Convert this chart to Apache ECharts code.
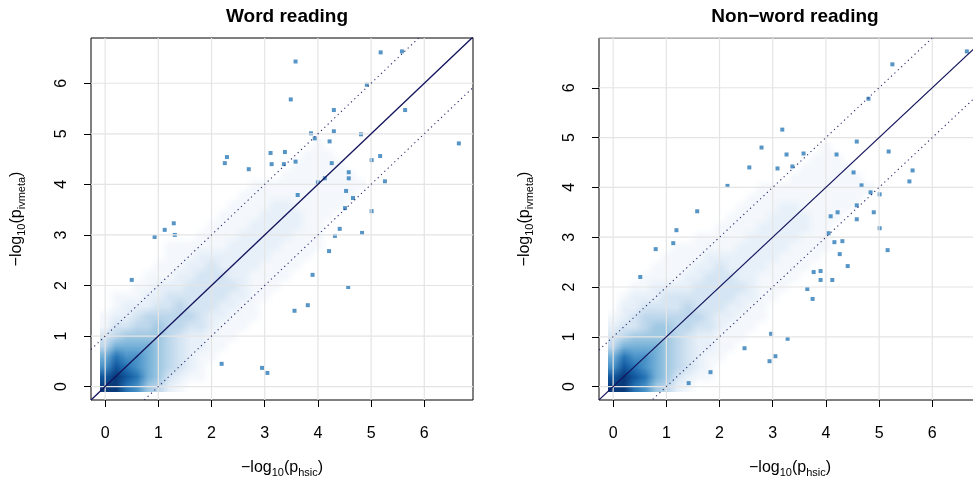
<!DOCTYPE html>
<html>
<head>
<meta charset="utf-8">
<script src="https://cdn.jsdelivr.net/npm/echarts@6/dist/echarts.min.js"></script>
<style>
html, body { margin: 0; padding: 0; background: #fff; overflow: hidden; }
#chart { width: 1010px; height: 485px; }
</style>
</head>
<body>
<div id="chart"></div>
<script>
// axis ranges (R style, data range padded by 4%)
var xRange = [-0.266, 6.916];
var yRangeWord = [-0.265, 6.895];
var yRangeNonword = [-0.269, 6.999];
var xTicks = [0, 1, 2, 3, 4, 5, 6];
var yTicksWord = [0, 1, 2, 3, 4, 5, 6];
var yTicksNonword = [0, 1, 2, 3, 4, 5, 6, 7];
var refOffsets = [0, 1, -1];   // y = x, y = x + 1, y = x - 1

// smoothed density: one string per row, bottom row is y = 0,
// rows and columns every 0.2 units, levels 0..a (0 = blank, a = darkest)
var densityStep = 0.2;
var densityWord = [
  'aa875421',
  '9a98653211',
  '7987654321',
  '68776543211',
  '466665432211',
  '3455554322111',
  '13344544332111',
  '122344444322111',
  '012223343332211',
  '0111223333332211',
  '00011222333332111',
  '000011122333221111',
  '0000011122322221111',
  '00000011122222221111',
  '000000111111222221111',
  '000000000111122222111',
  '000000000011112222211',
  '0000000000011112222111',
  '00000000000011112211111',
  '000000000000011111111111',
  '0000000000000011111111111',
  '000000000000000001111111',
  '00000000000000000011111',
  '0000000000000000000111',
  '000000000000000000001'
];
var densityNonword = [
  'aa875421',
  '9a98653211',
  '7987654321',
  '68776543211',
  '466665432211',
  '3455554322111',
  '23345544332111',
  '123444444322111',
  '022333343332211',
  '0122233333332211',
  '00112222333332111',
  '000111122333221111',
  '0000111122322221111',
  '00000111122222221111',
  '000000111111222221111',
  '000000001111122222111',
  '000000000011112222211',
  '0000000000011112222111',
  '00000000000011112211111',
  '000000000000011111111111',
  '0000000000000011111111111',
  '000000000000000001111111',
  '00000000000000000011111',
  '0000000000000000000111',
  '000000000000000000001'
];
var densityColors = ['#ffffff', '#f4f8fc', '#e7f0f9', '#d5e5f3', '#bdd7ec', '#9fc8e2',
                     '#74b0d8', '#4a93c8', '#2775b6', '#11579e', '#08397a'];

// outlying genes
var wordX = [0.50, 0.93, 1.12, 1.29, 1.31, 2.19, 2.25, 2.29, 2.70, 2.95, 3.05, 3.11, 3.13, 3.36, 3.38,
             3.49, 3.56, 3.58, 3.58, 3.62, 3.81, 3.87, 3.90, 3.94, 4.00, 4.13, 4.21, 4.22, 4.26, 4.30,
             4.30, 4.32, 4.41, 4.51, 4.53, 4.57, 4.58, 4.58, 4.66, 4.81, 4.83, 4.92, 5.01, 5.01, 5.17,
             5.18, 5.26, 5.58, 5.64, 6.65];
var wordY = [2.11, 2.96, 3.10, 3.23, 3.00, 0.45, 4.42, 4.54, 4.30, 0.37, 0.27, 4.62, 4.40, 4.40, 4.64,
             5.68, 1.50, 4.45, 6.43, 3.79, 1.61, 5.01, 2.21, 4.91, 4.04, 4.12, 2.68, 4.85, 4.42, 5.47,
             5.05, 2.98, 3.12, 3.53, 3.87, 1.97, 4.24, 4.12, 3.73, 4.99, 3.04, 5.97, 4.48, 3.47, 4.56,
             6.61, 4.06, 6.63, 5.47, 4.81];
var nonwordX = [0.51, 0.80, 1.13, 1.19, 1.42, 1.58, 1.83, 2.15, 2.47, 2.56, 2.79, 2.94, 2.97, 3.05, 3.09,
                3.18, 3.26, 3.28, 3.37, 3.58, 3.65, 3.75, 3.77, 3.90, 3.90, 4.05, 4.09, 4.12, 4.16, 4.20,
                4.22, 4.26, 4.31, 4.41, 4.52, 4.58, 4.58, 4.58, 4.67, 4.84, 4.90, 4.80, 5.01, 5.01, 5.16,
                5.18, 5.25, 5.57, 5.63, 6.65];
var nonwordY = [2.20, 2.76, 2.88, 3.14, 0.07, 3.52, 0.29, 4.03, 0.77, 4.40, 4.80, 0.51, 1.06, 0.61, 4.38,
                5.16, 4.66, 0.96, 4.42, 4.68, 1.96, 1.76, 2.30, 2.32, 2.14, 3.08, 3.42, 2.14, 2.90, 4.66,
                3.50, 2.66, 2.92, 2.42, 4.30, 4.92, 3.64, 3.36, 4.04, 3.90, 3.50, 5.78, 3.86, 3.18, 2.74,
                4.72, 6.47, 4.12, 4.34, 6.73];

var FONT = '"Liberation Sans", Arial, Helvetica, sans-serif';

// paint the density levels into a tiny bitmap, one pixel per cell;
// the chart stretches it over the cells so the browser smooths it like smoothScatter
function densityBitmap(rows) {
  var cols = 0;
  rows.forEach(function (r) { cols = Math.max(cols, r.length); });
  var cv = document.createElement('canvas');
  cv.width = cols;
  cv.height = rows.length;
  var ctx = cv.getContext('2d');
  rows.forEach(function (row, j) {
    for (var i = 0; i < row.length; i++) {
      var lev = parseInt(row[i], 11);
      if (lev > 0) {
        ctx.fillStyle = densityColors[lev];
        ctx.fillRect(i, rows.length - 1 - j, 1, 1);
      }
    }
  });
  return { canvas: cv, cols: cols, rows: rows.length };
}

function densityRenderer(bmp) {
  return function (params, api) {
    var h = densityStep / 2;
    var p0 = api.coord([-h, (bmp.rows - 1) * densityStep + h]);
    var p1 = api.coord([(bmp.cols - 1) * densityStep + h, -h]);
    return {
      type: 'image',
      style: { image: bmp.canvas, x: p0[0], y: p0[1], width: p1[0] - p0[0], height: p1[1] - p0[1] }
    };
  };
}

function gridLineRenderer(yRange) {
  return function (params, api) {
    var v = api.value(0);
    var horiz = api.value(1) === 1;
    var a = horiz ? api.coord([xRange[0], v]) : api.coord([v, yRange[0]]);
    var b = horiz ? api.coord([xRange[1], v]) : api.coord([v, yRange[1]]);
    return {
      type: 'line',
      shape: { x1: a[0], y1: a[1], x2: b[0], y2: b[1] },
      style: { stroke: '#e4e4e4', lineWidth: 1.2 }
    };
  };
}

function axisName(sub) {
  return '{m|\u2212log}{s|10}{m|(p}{s|' + sub + '}{m|)}';
}
var nameRich = {
  m: { fontSize: 16, fontFamily: FONT, color: '#000', lineHeight: 20 },
  s: { fontSize: 11, fontFamily: FONT, color: '#000', lineHeight: 11, verticalAlign: 'bottom' }
};

function panel(idx, yRange, yTicks, density, px, py) {
  var gridData = xTicks.map(function (v) { return [v, 0]; })
    .concat(yTicks.map(function (v) { return [v, 1]; }));
  var series = [
    {
      type: 'custom', xAxisIndex: idx, yAxisIndex: idx, z: 1, silent: true,
      renderItem: densityRenderer(densityBitmap(density)), data: [[0, 0]]
    },
    {
      type: 'scatter', xAxisIndex: idx, yAxisIndex: idx, z: 2, silent: true,
      symbol: 'rect', symbolSize: 4,
      itemStyle: { color: '#2c7bb8' },
      data: px.map(function (x, k) { return [x, py[k]]; })
    },
    {
      type: 'custom', xAxisIndex: idx, yAxisIndex: idx, z: 3, silent: true,
      renderItem: gridLineRenderer(yRange), data: gridData
    }
  ];
  refOffsets.forEach(function (off) {
    series.push({
      type: 'line', xAxisIndex: idx, yAxisIndex: idx, z: 4, silent: true,
      showSymbol: false, clip: true,
      lineStyle: off === 0
        ? { color: '#14145c', width: 1.3 }
        : { color: '#2a2a6c', width: 1.1, type: [1.2, 3.4] },
      data: [[xRange[0], xRange[0] + off], [xRange[1], xRange[1] + off]]
    });
  });
  return series;
}

function xAxisCfg(idx) {
  return {
    gridIndex: idx, type: 'value', min: xRange[0], max: xRange[1],
    axisLine: { show: false, onZero: false },
    splitLine: { show: false },
    axisTick: { show: true, customValues: xTicks, length: 7, lineStyle: { color: '#000', width: 1 } },
    axisLabel: { customValues: xTicks, margin: 26, fontSize: 16, fontFamily: FONT, color: '#000' },
    name: axisName('hsic'), nameLocation: 'middle', nameGap: 58,
    nameTextStyle: { rich: nameRich }
  };
}

function yAxisCfg(idx, yRange, yTicks) {
  return {
    gridIndex: idx, type: 'value', min: yRange[0], max: yRange[1],
    axisLine: { show: false, onZero: false },
    splitLine: { show: false },
    axisTick: { show: true, customValues: yTicks, length: 7, lineStyle: { color: '#000', width: 1 } },
    axisLabel: { customValues: yTicks, margin: 21, rotate: 90, fontSize: 16, fontFamily: FONT, color: '#000' },
    name: axisName('ivmeta'), nameLocation: 'middle', nameGap: 64, nameRotate: 90,
    nameTextStyle: { rich: nameRich }
  };
}

var chart = echarts.init(document.getElementById('chart'), null, { renderer: 'canvas' });
chart.setOption({
  animation: false,
  backgroundColor: '#fff',
  title: [
    { text: 'Word reading', left: 282, top: 2, textAlign: 'center',
      textStyle: { fontSize: 19, fontWeight: 'bold', fontFamily: FONT, color: '#000' } },
    { text: 'Non\u2212word reading', left: 790, top: 2, textAlign: 'center',
      textStyle: { fontSize: 19, fontWeight: 'bold', fontFamily: FONT, color: '#000' } }
  ],
  grid: [
    { left: 91, top: 38, width: 382, height: 362, outerBoundsMode: 'none',
      show: true, borderColor: '#000', borderWidth: 1, backgroundColor: 'transparent' },
    { left: 599, top: 38, width: 382, height: 362, outerBoundsMode: 'none',
      show: true, borderColor: '#000', borderWidth: 1, backgroundColor: 'transparent' }
  ],
  xAxis: [xAxisCfg(0), xAxisCfg(1)],
  yAxis: [yAxisCfg(0, yRangeWord, yTicksWord), yAxisCfg(1, yRangeNonword, yTicksNonword)],
  series: panel(0, yRangeWord, yTicksWord, densityWord, wordX, wordY)
    .concat(panel(1, yRangeNonword, yTicksNonword, densityNonword, nonwordX, nonwordY))
});
</script>
</body>
</html>
